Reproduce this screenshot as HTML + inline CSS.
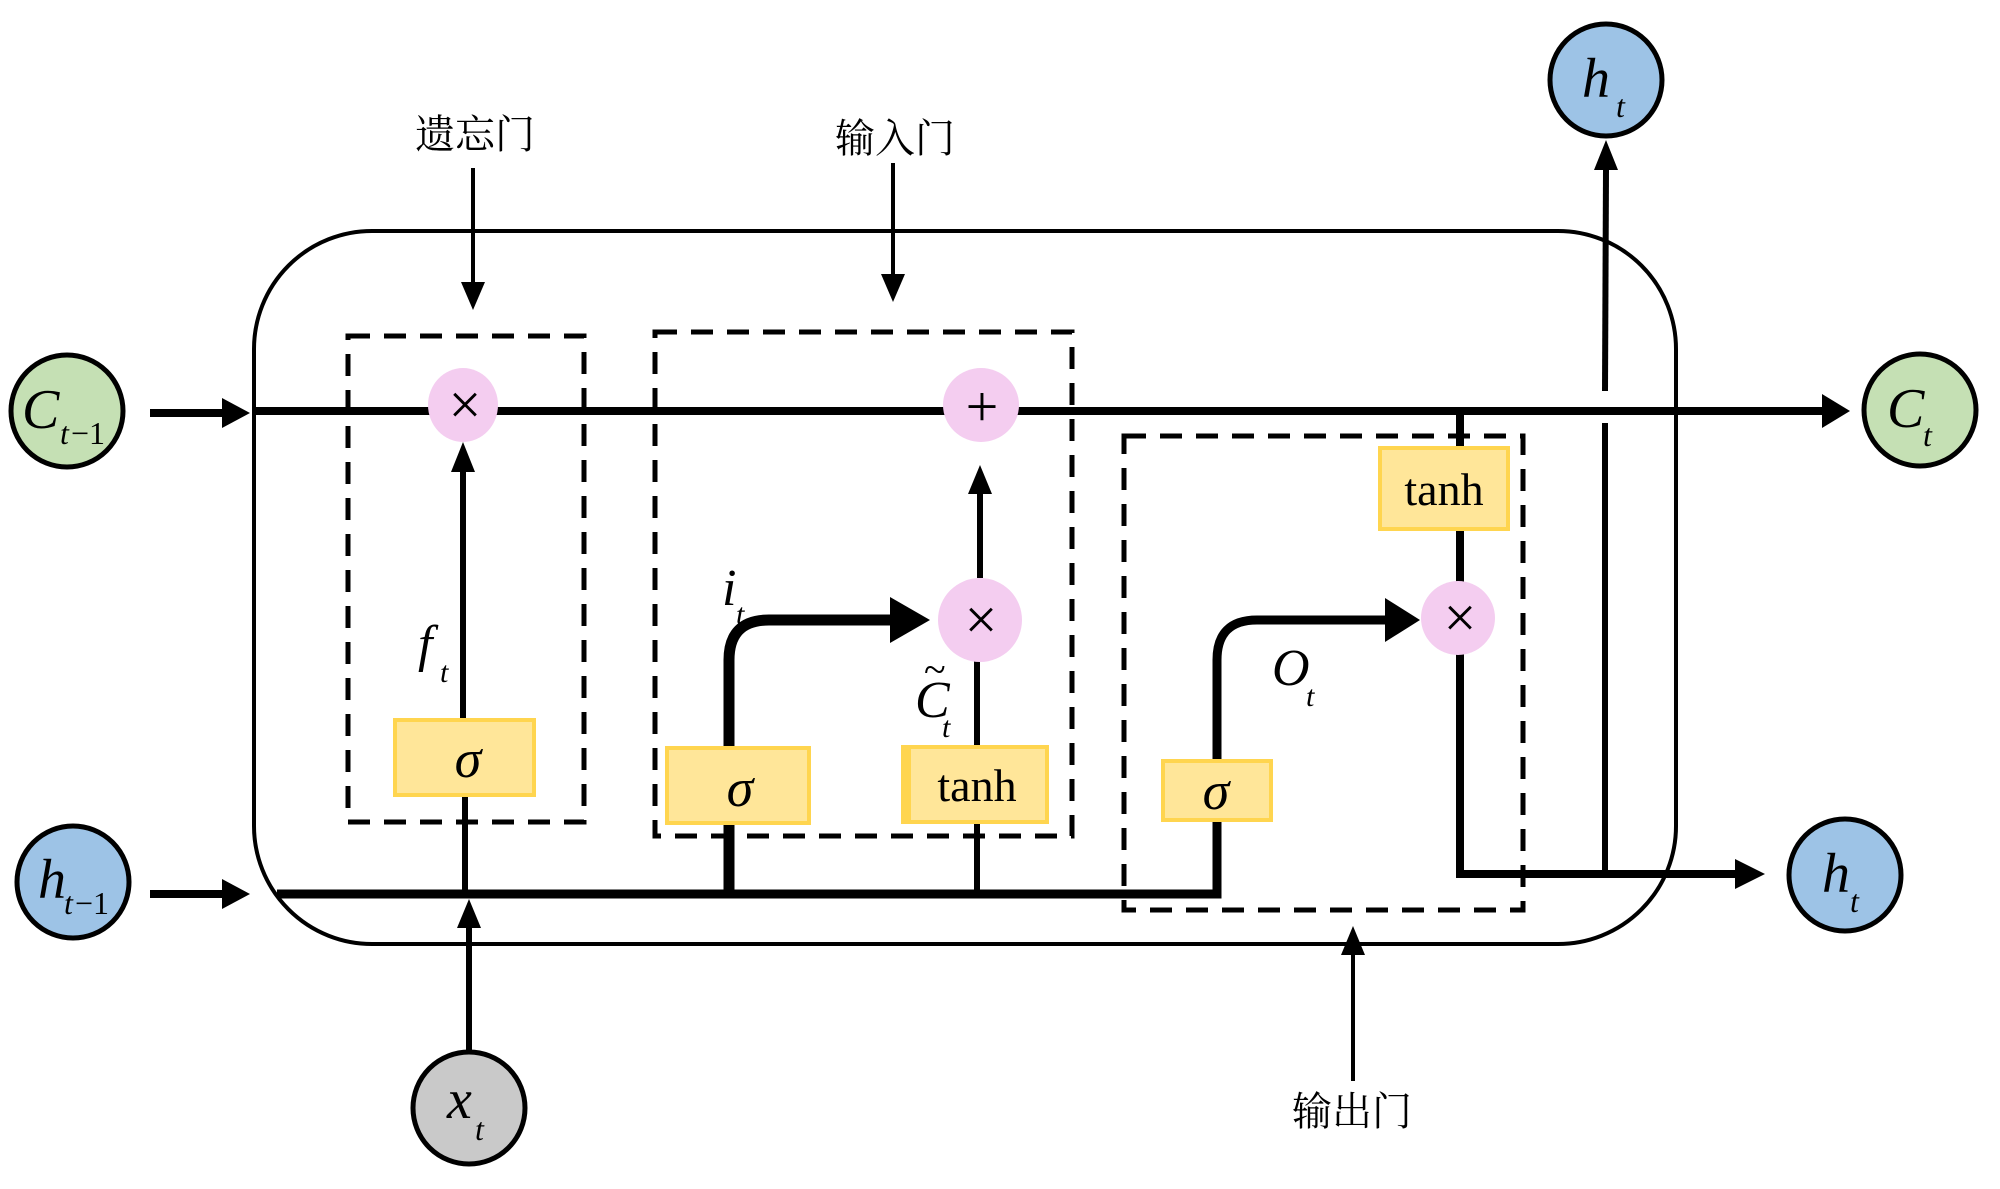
<!DOCTYPE html>
<html><head><meta charset="utf-8"><style>
html,body{margin:0;padding:0;background:#fff;}
svg{display:block;}
.m{font-family:"Liberation Serif",serif;font-style:italic;}
.r{font-family:"Liberation Serif",serif;}
.cn{font-family:"Liberation Serif","Noto Serif CJK SC",serif;}
</style></head><body>
<svg width="2000" height="1189" viewBox="0 0 2000 1189" xmlns="http://www.w3.org/2000/svg">
<!-- outer rounded rect -->
<rect x="254" y="231" width="1422" height="713" rx="118" ry="118" fill="none" stroke="#000" stroke-width="4"/>

<!-- dashed boxes -->
<g fill="none" stroke="#000" stroke-width="5" stroke-dasharray="22,14">
<rect x="348" y="336" width="236" height="486"/>
<rect x="655" y="332" width="417" height="504"/>
<rect x="1124" y="436" width="399" height="474"/>
</g>

<!-- C line -->
<line x1="253" y1="411" x2="1830" y2="411" stroke="#000" stroke-width="8"/>
<path d="M1822,394 L1850,411 L1822,428z"/>
<line x1="150" y1="413" x2="230" y2="413" stroke="#000" stroke-width="8"/>
<path d="M222,398 L250,413 L222,428z"/>
<line x1="150" y1="894" x2="230" y2="894" stroke="#000" stroke-width="8"/>
<path d="M222,879 L250,894 L222,909z"/>

<!-- h line -->
<path d="M277,894 L1217,894 L1217,660 Q1217,620 1257,620 L1395,620" fill="none" stroke="#000" stroke-width="9"/>
<path d="M1385,598 L1420,620 L1385,642z"/>

<line x1="465" y1="894" x2="465" y2="795" stroke="#000" stroke-width="6"/>
<line x1="463" y1="718" x2="463" y2="470" stroke="#000" stroke-width="6"/>
<path d="M451,472 L463,442 L475,472z"/>

<line x1="469" y1="1052" x2="469" y2="925" stroke="#000" stroke-width="6"/>
<path d="M457,928 L469,899 L481,928z"/>

<path d="M729,894 L729,660 Q729,620 769,620 L900,620" fill="none" stroke="#000" stroke-width="11"/>
<path d="M890,597 L930,620 L890,643z"/>
<line x1="977" y1="894" x2="977" y2="822" stroke="#000" stroke-width="6"/>
<line x1="977" y1="746" x2="977" y2="660" stroke="#000" stroke-width="6"/>
<line x1="980" y1="578" x2="980" y2="490" stroke="#000" stroke-width="6"/>
<path d="M968,494 L980,465 L992,494z"/>

<path d="M1460,411 L1460,874 L1737,874" fill="none" stroke="#000" stroke-width="8"/>
<path d="M1735,859 L1765,874 L1735,889z"/>
<line x1="1605" y1="874" x2="1605" y2="423" stroke="#000" stroke-width="6"/>
<line x1="1605" y1="391" x2="1606" y2="170" stroke="#000" stroke-width="6"/>
<path d="M1594,170 L1606,140 L1618,170z"/>

<line x1="473" y1="168" x2="473" y2="285" stroke="#000" stroke-width="4"/>
<path d="M461,282 L473,310 L485,282z"/>
<line x1="893" y1="163" x2="893" y2="277" stroke="#000" stroke-width="4"/>
<path d="M881,274 L893,302 L905,274z"/>
<line x1="1353" y1="1081" x2="1353" y2="952" stroke="#000" stroke-width="4"/>
<path d="M1341,955 L1353,926 L1365,955z"/>

<g fill="#ffe699" stroke="#ffd54f" stroke-width="4">
<rect x="395" y="720" width="139" height="75"/>
<rect x="667" y="748" width="142" height="75"/>
<rect x="903" y="747" width="144" height="75"/>
<rect x="1163" y="761" width="108" height="59"/>
<rect x="1380" y="448" width="128" height="81"/>
</g>
<rect x="903" y="747" width="8" height="75" fill="#ffd54f"/>

<g fill="#f4cdf0">
<ellipse cx="463" cy="405" rx="35" ry="37"/>
<ellipse cx="981" cy="405" rx="38" ry="37"/>
<ellipse cx="980" cy="620" rx="42" ry="42"/>
<ellipse cx="1458" cy="618" rx="37" ry="37"/>
</g>
<g class="r" font-size="58" text-anchor="middle">
<text x="465" y="424">×</text>
<text x="982" y="426">+</text>
<text x="981" y="639">×</text>
<text x="1460" y="637">×</text>
</g>

<g class="m" font-size="54" text-anchor="middle">
<text x="468" y="777">σ</text>
<text x="740" y="806">σ</text>
<text x="1216" y="809">σ</text>
</g>
<g class="r" font-size="46" text-anchor="middle">
<text x="977" y="801">tanh</text>
<text x="1444" y="505">tanh</text>
</g>

<g stroke="#000" stroke-width="5">
<circle cx="67" cy="411" r="56" fill="#c5e0b4"/>
<circle cx="73" cy="882" r="56" fill="#9dc3e6"/>
<circle cx="469" cy="1108" r="56" fill="#c9c9c9"/>
<circle cx="1920" cy="410" r="56" fill="#c5e0b4"/>
<circle cx="1845" cy="875" r="56" fill="#9dc3e6"/>
<circle cx="1606" cy="80" r="56" fill="#9dc3e6"/>
</g>
<g class="m">
<text x="22" y="428" font-size="56">C</text><text x="60" y="444" font-size="32">t</text><text x="71" y="444" font-size="32" font-style="normal">−1</text>
<text x="38" y="898" font-size="56">h</text><text x="64" y="914" font-size="32">t</text><text x="75" y="914" font-size="32" font-style="normal">−1</text>
<text x="447" y="1118" font-size="56">x</text><text x="475" y="1140" font-size="32">t</text>
<text x="1887" y="427" font-size="56">C</text><text x="1923" y="446" font-size="32">t</text>
<text x="1822" y="892" font-size="56">h</text><text x="1850" y="912" font-size="32">t</text>
<text x="1582" y="97" font-size="56">h</text><text x="1616" y="117" font-size="32">t</text>
<text x="418" y="661" font-size="52">f</text><text x="440" y="682" font-size="30">t</text>
<text x="722" y="605" font-size="52">i</text><text x="736" y="624" font-size="30">t</text>
<text x="915" y="717" font-size="52">C</text><text x="942" y="737" font-size="30">t</text>
<text x="1272" y="685" font-size="52">O</text><text x="1306" y="706" font-size="30">t</text>
</g>
<text x="924" y="683" class="r" font-size="40">~</text>

<g class="cn" font-size="40" text-anchor="middle">
<text x="475" y="148">遗忘门</text>
<text x="895" y="152">输入门</text>
<text x="1352" y="1125">输出门</text>
</g>
</svg>
</body></html>
